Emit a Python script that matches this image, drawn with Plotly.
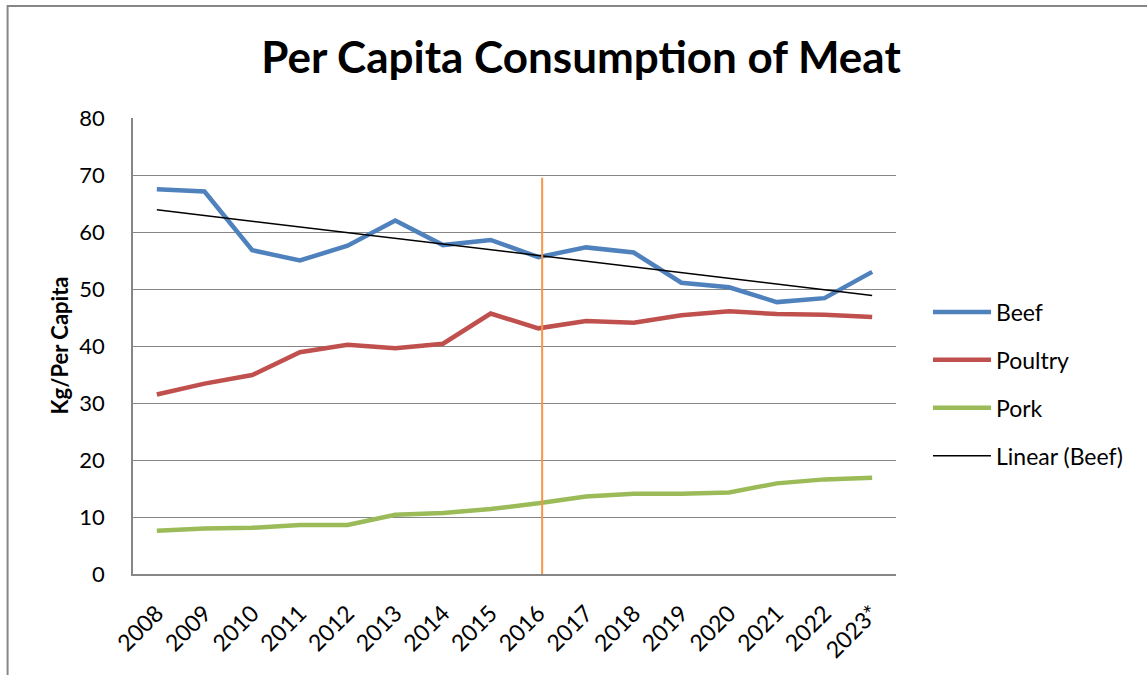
import numpy as np
import plotly.graph_objects as go

years = ["2008", "2009", "2010", "2011", "2012", "2013", "2014", "2015",
         "2016", "2017", "2018", "2019", "2020", "2021", "2022", "2023*"]
beef = [67.5, 67.1, 56.8, 55.0, 57.6, 62.0, 57.7, 58.6,
        55.6, 57.3, 56.4, 51.1, 50.3, 47.7, 48.4, 53.0]
poultry = [31.5, 33.4, 34.9, 38.9, 40.2, 39.6, 40.4, 45.7,
           43.1, 44.4, 44.1, 45.4, 46.1, 45.6, 45.5, 45.1]
pork = [7.6, 8.0, 8.1, 8.6, 8.6, 10.4, 10.7, 11.4,
        12.4, 13.6, 14.1, 14.1, 14.3, 15.9, 16.6, 16.9]
marker_pos = 8.08
marker_top = 69.5

x = np.arange(len(years))
slope, intercept = np.polyfit(x, beef, 1)
trend = slope * x + intercept

FONT = "Lato"
W, H = 1147, 675
ML, MR, MT, MB = 132.5, 251, 118, 101
pw = W - ML - MR
ph = H - MT - MB

fig = go.Figure()
fig.add_trace(go.Scatter(x=x, y=beef, mode="lines", name="Beef",
                         line=dict(color="#4F81BD", width=4.5), legendgroup="a"))
fig.add_trace(go.Scatter(x=x, y=poultry, mode="lines", name="Poultry",
                         line=dict(color="#C0504D", width=4.5), legendgroup="b"))
fig.add_trace(go.Scatter(x=x, y=pork, mode="lines", name="Pork",
                         line=dict(color="#9BBB59", width=4.5), legendgroup="c"))
fig.add_trace(go.Scatter(x=x, y=trend, mode="lines", name="Linear (Beef)",
                         line=dict(color="black", width=1.5), legendgroup="d"))

fig.add_shape(type="line", xref="x", yref="y", x0=marker_pos, x1=marker_pos,
              y0=0, y1=marker_top, line=dict(color="#F79646", width=2))

# chart border (left and top visible)
fig.add_shape(type="rect", xref="paper", yref="paper",
              x0=(7 - ML) / pw, x1=(W + 20 - ML) / pw,
              y0=(H - MB - (H + 20)) / ph, y1=(H - MB - 6) / ph,
              line=dict(color="#868686", width=2), layer="below")

fig.add_annotation(text="<b>Kg/Per Capita</b>", textangle=-90,
                   xref="paper", yref="paper",
                   x=(58 - ML) / pw, y=(H - MB - 346) / ph,
                   xanchor="center", yanchor="middle", showarrow=False,
                   font=dict(family=FONT, size=22, color="black"))

fig.update_layout(
    width=W, height=H,
    margin=dict(l=ML, r=MR, t=MT, b=MB, autoexpand=False),
    paper_bgcolor="white", plot_bgcolor="white",
    font=dict(family=FONT, color="black"),
    title=dict(text="<b>Per Capita Consumption of Meat</b>", x=581 / W, xanchor="center",
               y=1 - 58 / H, yanchor="middle", xref="container", yref="container",
               font=dict(family=FONT, size=44, color="black")),
    showlegend=True,
    legend=dict(x=(928 - ML) / pw, xanchor="left", y=(H - MB - 384) / ph, yanchor="middle",
                font=dict(family=FONT, size=23, color="black"),
                tracegroupgap=15, itemwidth=58, bgcolor="rgba(0,0,0,0)"),
    xaxis=dict(range=[-0.5, 15.5], tickmode="array", tickvals=list(x), ticktext=years,
               tickangle=-45, showgrid=False, zeroline=False,
               showline=True, linecolor="#868686", linewidth=1.5,
               ticks="outside", ticklen=15, tickcolor="rgba(0,0,0,0)",
               tickfont=dict(family=FONT, size=23, color="black"),
               automargin=False, fixedrange=True),
    yaxis=dict(range=[0, 80], dtick=10, showgrid=True, gridcolor="#868686", gridwidth=1.3,
               zeroline=False, showline=True, linecolor="#868686", linewidth=1.5,
               ticks="outside", ticklen=22, tickcolor="rgba(0,0,0,0)",
               tickfont=dict(family=FONT, size=22, color="black"),
               automargin=False, fixedrange=True),
)

fig.write_html("out.html")
